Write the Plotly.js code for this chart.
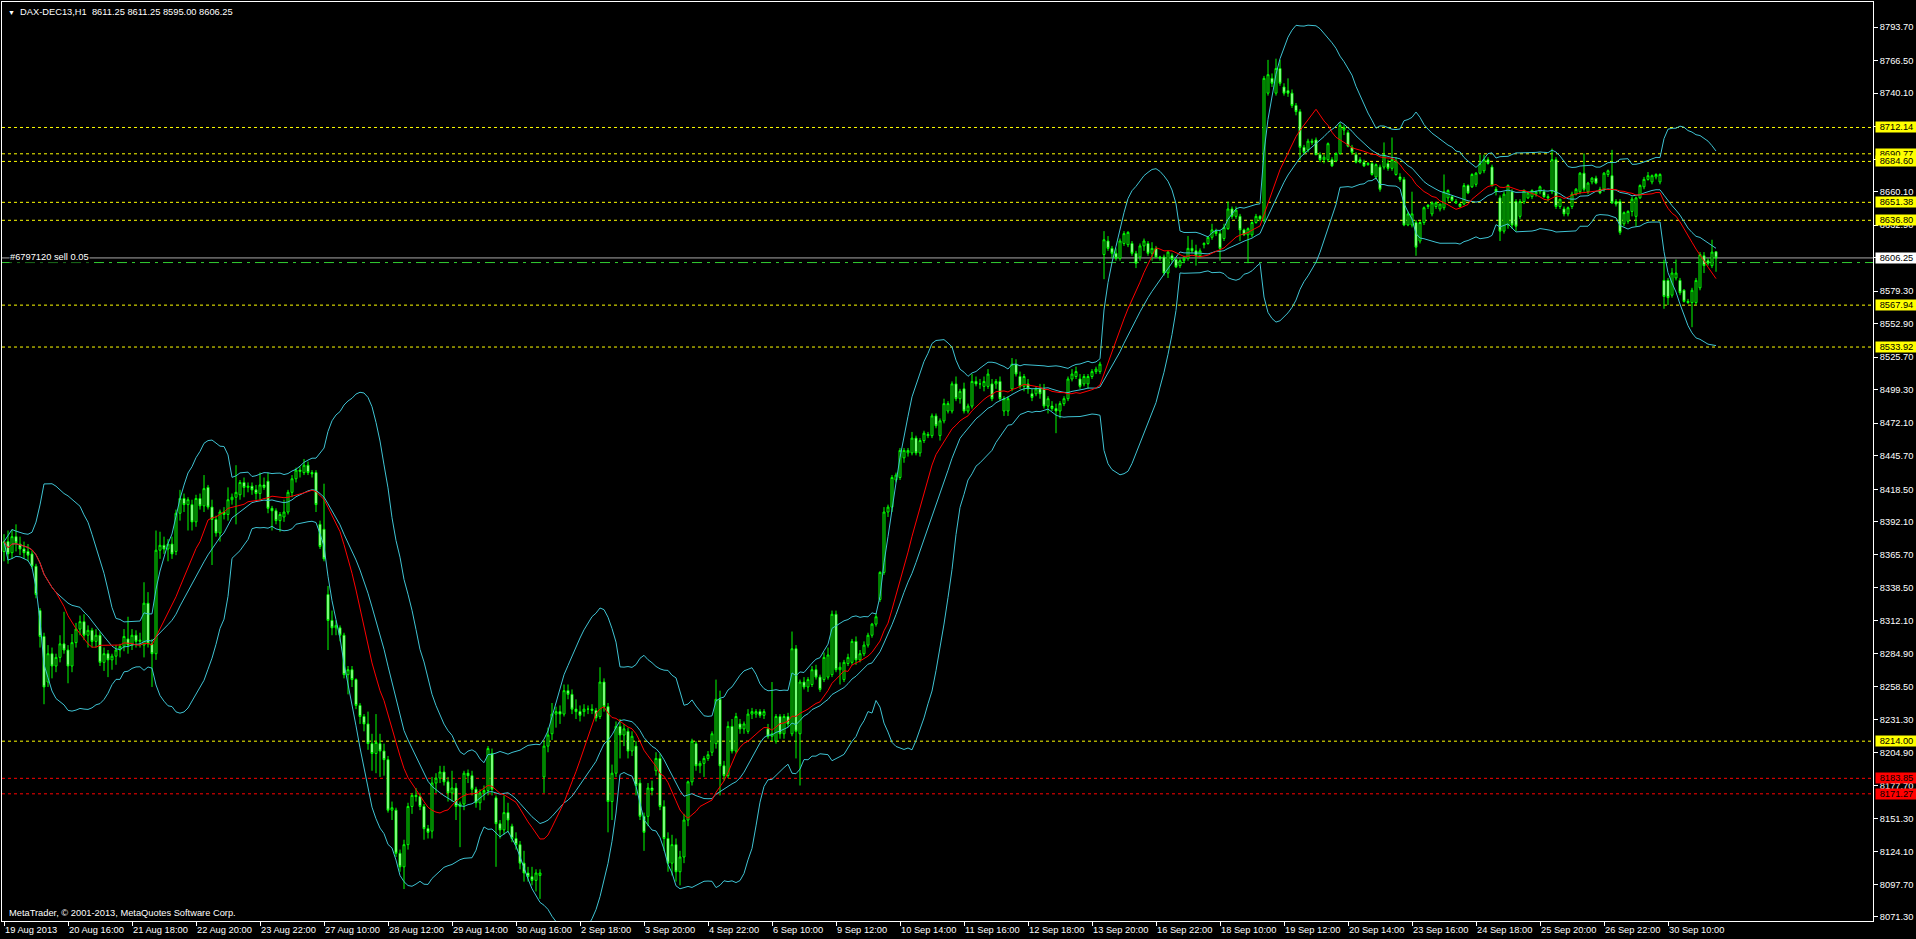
<!DOCTYPE html>
<html><head><meta charset="utf-8">
<script src="https://cdn.plot.ly/plotly-3.0.1.min.js"></script>
<style>html,body{margin:0;padding:0;background:#000;overflow:hidden}#chart{width:1916px;height:939px}</style>
</head><body><div id="chart"></div>
<script>
const symbolTitle = "DAX-DEC13,H1\u00a0\u00a08611.25 8611.25 8595.00 8606.25";
const copyrightText = "MetaTrader, © 2001-2013, MetaQuotes Software Corp.";
const orderText = "#6797120 sell 0.05";
const timeLabels = ["19 Aug 2013","20 Aug 16:00","21 Aug 18:00","22 Aug 20:00","23 Aug 22:00","27 Aug 10:00","28 Aug 12:00","29 Aug 14:00","30 Aug 16:00","2 Sep 18:00","3 Sep 20:00","4 Sep 22:00","6 Sep 10:00","9 Sep 12:00","10 Sep 14:00","11 Sep 16:00","12 Sep 18:00","13 Sep 20:00","16 Sep 22:00","18 Sep 10:00","19 Sep 12:00","20 Sep 14:00","23 Sep 16:00","24 Sep 18:00","25 Sep 20:00","26 Sep 22:00","30 Sep 10:00"];
const barsPerLabel = 16;
const yTickVals = [8793.7,8766.5,8740.1,8712.9,8686.5,8660.1,8632.9,8606.5,8579.3,8552.9,8525.7,8499.3,8472.1,8445.7,8418.5,8392.1,8365.7,8338.5,8312.1,8284.9,8258.5,8231.3,8204.9,8177.7,8151.3,8124.1,8097.7,8071.3];
const yellowLevels = [8712.14,8690.77,8684.60,8651.38,8636.80,8567.94,8533.92,8214.00];
const redLevels = [8183.85,8171.27];
const bidPrice = 8606.25;
const orderPrice = 8602.5;
const bbPeriod = 20, bbDev = 2, maPeriod = 14;

const open = [
8368,8376,8367,8380,8374,8370,8368,8366,8356,8320,
8299,8262,8285,8275,8282,8293,8288,8275,8294,8305,
8311,8300,8304,8295,8300,8278,8285,8280,8283,8288,
8291,8297,8292,8300,8295,8292,8326,8293,8285,8369,
8373,8370,8374,8368,8399,8411,8406,8406,8392,8411,
8405,8420,8404,8394,8383,8400,8398,8410,8412,8414,
8424,8420,8421,8418,8415,8422,8425,8403,8401,8393,
8396,8400,8416,8427,8434,8432,8438,8432,8432,8390,
8386,8333,8312,8306,8306,8300,8268,8272,8264,8243,
8234,8228,8212,8204,8212,8206,8199,8158,8158,8123,
8112,8130,8161,8170,8169,8161,8143,8141,8180,8184,
8189,8181,8172,8176,8161,8163,8188,8186,8175,8164,
8172,8174,8204,8168,8147,8142,8156,8145,8135,8130,
8115,8107,8104,8101,8105,8185,8210,8220,8236,8238,
8236,8255,8252,8240,8238,8238,8240,8240,8239,8234,
8262,8242,8165,8188,8226,8219,8222,8206,8210,8180,
8153,8153,8176,8190,8200,8161,8135,8115,8130,8108,
8120,8150,8181,8212,8194,8196,8200,8205,8212,8248,
8194,8186,8226,8206,8228,8224,8222,8236,8236,8238,
8235,8224,8218,8214,8234,8220,8234,8220,8289,8220,
8262,8258,8260,8272,8266,8264,8266,8268,8317,8272,
8264,8277,8278,8295,8280,8285,8292,8300,8309,8329,
8351,8400,8404,8426,8428,8444,8448,8448,8460,8448,
8458,8462,8462,8478,8462,8474,8482,8482,8504,8492,
8500,8482,8486,8506,8504,8502,8502,8504,8504,8506,
8482,8482,8500,8520,8510,8502,8504,8496,8496,8500,
8500,8486,8486,8484,8482,8488,8492,8508,8510,8508,
8504,8504,8510,8514,8514,8609,8620,8614,8610,8606,
8618,8617,8618,8610,8607,8616,8618,8610,8614,8607,
8607,8594,8608,8605,8600,8604,8606,8614,8612,8608,
8617,8618,8623,8628,8626,8622,8630,8646,8640,8640,
8629,8625,8625,8635,8640,8637,8740,8752,8740,8760,
8745,8742,8740,8730,8725,8696,8694,8701,8702,8690,
8686,8686,8686,8685,8691,8710,8708,8696,8690,8686,
8684,8682,8683,8672,8680,8680,8683,8679,8674,8672,
8670,8633,8633,8635,8620,8635,8648,8642,8648,8646,
8647,8655,8656,8652,8650,8650,8665,8664,8666,8675,
8677,8686,8680,8662,8655,8628,8633,8660,8652,8640,
8652,8655,8656,8658,8660,8660,8656,8660,8686,8648,
8646,8642,8648,8658,8660,8675,8660,8668,8671,8662,
8662,8674,8673,8652,8652,8634,8636,8644,8640,8655,
8664,8670,8668,8672,8668,8588,8588,8576,8590,8588,
8580,8571,8570,8570,8582,8608,8604,8600,8611.25];

const high = [
8382,8385,8386,8390,8380,8376,8374,8369,8358,8322,
8302,8292,8290,8285,8300,8319,8292,8301,8310,8316,
8317,8308,8306,8305,8303,8290,8288,8285,8292,8293,
8305,8315,8305,8304,8302,8343,8335,8297,8385,8384,
8380,8378,8380,8402,8418,8415,8412,8410,8414,8415,
8430,8422,8410,8397,8402,8404,8420,8415,8438,8426,
8428,8424,8424,8422,8432,8428,8432,8405,8403,8400,
8410,8418,8430,8436,8437,8443,8441,8434,8434,8393,
8423,8340,8320,8312,8308,8302,8275,8275,8265,8245,
8236,8238,8220,8236,8220,8212,8202,8165,8160,8126,
8134,8164,8172,8176,8172,8163,8146,8185,8188,8194,
8194,8185,8190,8180,8165,8190,8191,8190,8177,8175,
8178,8210,8208,8170,8150,8170,8164,8147,8140,8133,
8125,8112,8112,8110,8110,8214,8225,8245,8242,8243,
8260,8260,8256,8248,8243,8244,8243,8244,8241,8274,
8265,8245,8195,8230,8232,8228,8225,8222,8214,8183,
8156,8180,8182,8205,8204,8166,8140,8138,8135,8125,
8155,8182,8216,8214,8198,8202,8206,8222,8264,8255,
8198,8230,8232,8237,8232,8230,8240,8241,8240,8240,
8240,8228,8262,8236,8236,8236,8237,8303,8292,8264,
8266,8266,8275,8276,8268,8286,8290,8320,8320,8278,
8280,8285,8297,8299,8288,8295,8302,8310,8318,8352,
8404,8406,8430,8432,8452,8452,8452,8465,8462,8460,
8466,8465,8480,8480,8476,8492,8490,8506,8510,8500,
8505,8488,8512,8510,8508,8510,8516,8508,8508,8510,
8494,8494,8525,8524,8514,8512,8508,8500,8502,8504,
8504,8494,8490,8488,8490,8494,8510,8516,8518,8512,
8512,8512,8516,8518,8522,8628,8624,8616,8614,8622,
8628,8628,8620,8612,8618,8622,8620,8619,8616,8608,
8609,8612,8610,8606,8606,8608,8624,8621,8617,8614,
8619,8624,8634,8630,8629,8634,8652,8648,8648,8642,
8630,8631,8636,8642,8641,8754,8767,8756,8768,8767,
8748,8752,8743,8732,8727,8698,8703,8703,8704,8692,
8690,8700,8688,8692,8716,8714,8710,8698,8692,8688,
8686,8684,8684,8683,8682,8700,8686,8704,8688,8675,
8672,8644,8660,8637,8636,8648,8650,8652,8652,8650,
8674,8662,8657,8654,8651,8667,8666,8675,8676,8690,
8690,8688,8682,8664,8657,8660,8666,8662,8654,8654,
8662,8660,8662,8661,8665,8662,8658,8695,8688,8654,
8648,8648,8660,8663,8676,8691,8668,8672,8673,8664,
8676,8678,8694,8654,8654,8644,8645,8656,8656,8666,
8672,8676,8674,8675,8675,8605,8590,8598,8605,8590,
8581,8573,8582,8590,8611,8611,8606,8621,8611.25];

const low = [
8360,8358,8362,8368,8365,8362,8360,8354,8330,8290,
8244,8258,8265,8270,8278,8285,8261,8270,8290,8300,
8296,8290,8290,8290,8275,8271,8266,8272,8276,8282,
8287,8285,8288,8290,8290,8282,8290,8258,8280,8362,
8366,8360,8362,8365,8393,8400,8385,8385,8388,8402,
8400,8402,8357,8380,8376,8394,8393,8406,8390,8410,
8412,8416,8414,8410,8410,8418,8399,8385,8390,8384,
8392,8398,8412,8424,8428,8430,8430,8428,8400,8370,
8360,8288,8300,8300,8295,8265,8252,8258,8240,8228,
8222,8207,8190,8188,8185,8186,8156,8150,8120,8108,
8094,8126,8155,8165,8158,8134,8135,8135,8172,8180,
8178,8165,8165,8150,8128,8158,8180,8170,8160,8158,
8166,8170,8170,8112,8135,8138,8140,8132,8126,8110,
8100,8100,8097,8092,8086,8172,8205,8215,8225,8228,
8234,8248,8236,8232,8230,8234,8236,8236,8230,8232,
8238,8140,8150,8185,8200,8210,8200,8202,8170,8150,
8125,8145,8170,8186,8158,8125,8108,8105,8100,8097,
8115,8145,8178,8190,8188,8185,8198,8202,8208,8170,
8182,8184,8204,8204,8220,8220,8220,8232,8233,8233,
8232,8216,8214,8212,8216,8216,8225,8218,8200,8178,
8256,8254,8258,8264,8254,8262,8264,8266,8270,8260,
8262,8275,8276,8276,8278,8283,8290,8298,8307,8327,
8349,8396,8400,8424,8426,8440,8445,8446,8446,8445,
8456,8460,8460,8468,8458,8472,8480,8480,8490,8488,
8480,8480,8484,8502,8500,8498,8500,8490,8500,8490,
8478,8478,8498,8510,8500,8498,8496,8490,8494,8492,
8484,8480,8482,8464,8476,8486,8490,8506,8508,8500,
8502,8500,8508,8512,8512,8589,8612,8606,8604,8604,
8616,8615,8608,8598,8604,8612,8608,8604,8606,8604,
8592,8590,8602,8598,8598,8602,8604,8610,8600,8606,
8614,8617,8621,8624,8604,8620,8629,8638,8638,8620,
8624,8602,8623,8634,8636,8635,8738,8745,8738,8746,
8738,8737,8728,8722,8686,8690,8692,8698,8690,8684,
8683,8684,8680,8684,8690,8706,8696,8690,8683,8683,
8680,8681,8673,8670,8660,8678,8677,8677,8673,8668,
8632,8632,8631,8608,8618,8633,8646,8640,8646,8644,
8645,8652,8652,8650,8647,8649,8658,8663,8664,8674,
8675,8682,8664,8657,8620,8626,8630,8630,8628,8638,
8650,8654,8654,8656,8658,8655,8652,8658,8646,8646,
8640,8640,8646,8657,8658,8660,8658,8666,8666,8658,
8660,8672,8650,8648,8625,8632,8634,8640,8632,8654,
8662,8669,8666,8670,8666,8565,8568,8574,8588,8576,
8570,8569,8550,8568,8580,8594,8600,8598,8595];

const close = [
8376,8366,8380,8375,8370,8367,8365,8356,8333,8299,
8258,8285,8275,8282,8293,8288,8275,8294,8305,8311,
8300,8304,8295,8300,8278,8285,8280,8283,8288,8291,
8299,8292,8300,8295,8296,8326,8293,8285,8369,8373,
8370,8374,8366,8399,8411,8406,8410,8392,8411,8405,
8419,8404,8394,8383,8400,8398,8410,8412,8416,8424,
8420,8421,8418,8415,8422,8420,8403,8401,8393,8398,
8400,8416,8427,8434,8433,8438,8432,8431,8406,8372,
8362,8312,8306,8308,8300,8268,8272,8264,8243,8234,
8228,8212,8204,8213,8206,8199,8158,8160,8123,8112,
8130,8161,8170,8169,8161,8143,8140,8180,8184,8189,
8181,8172,8176,8161,8163,8188,8186,8175,8164,8172,
8174,8208,8175,8147,8142,8156,8150,8135,8130,8115,
8107,8104,8101,8107,8107,8210,8219,8236,8238,8236,
8255,8252,8240,8238,8235,8240,8240,8239,8233,8262,
8242,8165,8188,8226,8219,8224,8206,8218,8178,8153,
8140,8176,8174,8200,8161,8135,8115,8130,8108,8120,
8150,8181,8214,8194,8196,8200,8203,8220,8248,8194,
8186,8226,8206,8234,8224,8228,8236,8238,8238,8235,
8238,8218,8220,8234,8220,8234,8228,8289,8222,8262,
8258,8264,8272,8266,8256,8282,8284,8317,8272,8274,
8278,8282,8295,8280,8285,8292,8300,8309,8315,8351,
8400,8404,8428,8430,8450,8450,8450,8460,8448,8458,
8464,8463,8478,8470,8474,8488,8488,8504,8492,8498,
8482,8486,8506,8504,8504,8506,8512,8492,8506,8492,
8492,8492,8520,8512,8502,8510,8500,8493,8500,8496,
8486,8492,8484,8482,8488,8492,8508,8512,8514,8502,
8510,8510,8514,8516,8520,8621,8614,8610,8606,8620,
8626,8627,8610,8602,8616,8620,8610,8614,8607,8606,
8594,8611,8605,8599,8604,8606,8614,8612,8608,8612,
8618,8623,8629,8626,8614,8631,8646,8640,8645,8629,
8625,8630,8635,8640,8638,8752,8755,8748,8760,8748,
8740,8740,8730,8725,8696,8692,8701,8700,8690,8686,
8688,8699,8681,8691,8714,8712,8697,8692,8684,8684,
8681,8683,8674,8682,8662,8690,8679,8686,8685,8670,
8633,8642,8642,8615,8635,8647,8649,8651,8651,8650,
8660,8661,8653,8651,8648,8665,8659,8674,8675,8683,
8686,8683,8665,8660,8628,8658,8665,8633,8632,8652,
8661,8659,8661,8660,8664,8656,8655,8686,8648,8654,
8642,8647,8658,8662,8675,8662,8667,8671,8667,8659,
8675,8677,8651,8650,8627,8643,8644,8654,8655,8665,
8670,8673,8673,8674,8674,8575,8574,8594,8594,8578,
8571,8570,8580,8588,8609,8600,8602,8611,8606.25];

// ---- indicators computed from closes ----
const idx = close.map((_, i) => i);
function rolling(arr, n) {
  const mid = [], sd = [];
  for (let i = 0; i < arr.length; i++) {
    const w = arr.slice(Math.max(0, i - n + 1), i + 1);
    const m = w.reduce((a, b) => a + b, 0) / w.length;
    const v = w.reduce((a, b) => a + (b - m) * (b - m), 0) / w.length;
    mid.push(m); sd.push(Math.sqrt(v));
  }
  return {mid, sd};
}
const bb = rolling(close, bbPeriod);
const bbUp = bb.mid.map((m, i) => m + bbDev * bb.sd[i]);
const bbLo = bb.mid.map((m, i) => m - bbDev * bb.sd[i]);
const ma = rolling(close, maPeriod).mid;

const FONT = "Liberation Sans, Arial, sans-serif";
const CYAN = "#3fc3d3";

const traces = [
  {type: 'candlestick', x: idx, open, high, low, close, hoverinfo: 'none', whiskerwidth: 0,
   increasing: {line: {color: '#00ff00', width: 1}, fillcolor: '#000000'},
   decreasing: {line: {color: '#00ff00', width: 1}, fillcolor: '#ffffff'}},
  {type: 'scatter', mode: 'lines', x: idx, y: bbUp, line: {color: CYAN, width: 1}, hoverinfo: 'skip'},
  {type: 'scatter', mode: 'lines', x: idx, y: bb.mid, line: {color: CYAN, width: 1}, hoverinfo: 'skip'},
  {type: 'scatter', mode: 'lines', x: idx, y: bbLo, line: {color: CYAN, width: 1}, hoverinfo: 'skip'},
  {type: 'scatter', mode: 'lines', x: idx, y: ma, line: {color: '#ff0000', width: 1}, hoverinfo: 'skip'}
];

const shapes = [];
yellowLevels.forEach(v => shapes.push({type: 'line', xref: 'paper', x0: 0, x1: 1, yref: 'y', y0: v, y1: v, layer: 'below', line: {color: '#ffff00', width: 1, dash: '3px,3px'}}));
redLevels.forEach(v => shapes.push({type: 'line', xref: 'paper', x0: 0, x1: 1, yref: 'y', y0: v, y1: v, layer: 'below', line: {color: '#ff0000', width: 1, dash: '3px,3px'}}));
shapes.push({type: 'line', xref: 'paper', x0: 0, x1: 1, yref: 'y', y0: orderPrice, y1: orderPrice, layer: 'below', line: {color: '#32cd32', width: 1, dash: '10px,5px,3px,5px'}});
shapes.push({type: 'line', xref: 'paper', x0: 0, x1: 1, yref: 'y', y0: bidPrice, y1: bidPrice, layer: 'below', line: {color: '#a8a8a8', width: 1}});

const annotations = [];
function levelLabel(v, bg) {
  annotations.push({xref: 'paper', x: 1, xanchor: 'left', xshift: 2, yref: 'y', y: v, yanchor: 'middle',
    text: v.toFixed(2), showarrow: false, bgcolor: bg, borderpad: 0, width: 41, align: 'center',
    font: {family: FONT, size: 9.3, color: '#000000'}});
}
yellowLevels.forEach(v => levelLabel(v, '#ffff00'));
redLevels.forEach(v => levelLabel(v, '#ff0000'));
levelLabel(bidPrice, '#ffffff');
annotations.push({xref: 'paper', x: 0, xanchor: 'left', xshift: 4, yref: 'paper', y: 1, yanchor: 'top', yshift: -3,
  text: '<span style="font-size:7px">▼</span>\u00a0\u00a0' + symbolTitle, showarrow: false,
  font: {family: FONT, size: 9.3, color: '#ffffff'}});
annotations.push({xref: 'paper', x: 0, xanchor: 'left', xshift: 5, yref: 'paper', y: 0, yanchor: 'bottom', yshift: 1,
  text: copyrightText, showarrow: false, font: {family: FONT, size: 9.3, color: '#ffffff'}});
annotations.push({xref: 'paper', x: 0, xanchor: 'left', xshift: 7, yref: 'y', y: orderPrice, yanchor: 'bottom', yshift: 0,
  text: orderText, showarrow: false, bgcolor: '#000000', borderpad: 0, font: {family: FONT, size: 9.3, color: '#ffffff'}});

const layout = {
  width: 1916, height: 939,
  margin: {l: 2, r: 43, t: 2, b: 18, pad: 0},
  paper_bgcolor: '#000000', plot_bgcolor: '#000000',
  showlegend: false,
  xaxis: {range: [-0.5, 467.25], rangeslider: {visible: false}, showgrid: false, zeroline: false,
    showline: true, mirror: true, linecolor: '#ffffff', linewidth: 1,
    tickmode: 'array', tickvals: timeLabels.map((_, k) => k * barsPerLabel), ticktext: timeLabels,
    ticks: 'outside', ticklen: 4, tickcolor: '#ffffff', ticklabelposition: 'outside right',
    tickangle: 0, automargin: false,
    tickfont: {family: FONT, size: 9.3, color: '#ffffff'}},
  yaxis: {range: [8068.04, 8813.99], side: 'right', showgrid: false, zeroline: false,
    showline: true, mirror: true, linecolor: '#ffffff', linewidth: 1, automargin: false,
    tickmode: 'array', tickvals: yTickVals, ticktext: yTickVals.map(v => v.toFixed(2)),
    ticks: 'outside', ticklen: 4, tickcolor: '#ffffff',
    tickfont: {family: FONT, size: 9.3, color: '#ffffff'}},
  shapes, annotations
};

Plotly.newPlot('chart', traces, layout, {staticPlot: true, displayModeBar: false});
</script>
</body></html>
